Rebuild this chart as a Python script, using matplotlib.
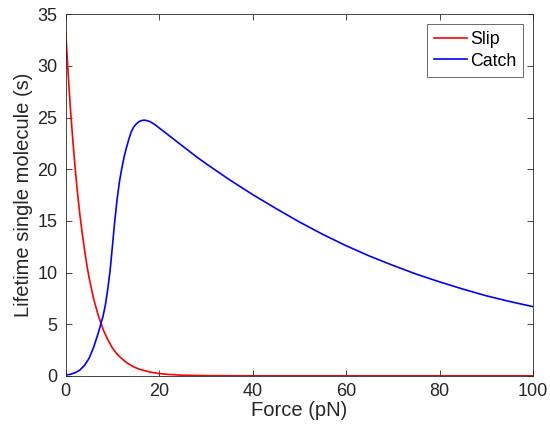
import matplotlib
matplotlib.use("Agg")
import matplotlib.pyplot as plt

# values
force_slip = [0, 0.5, 1, 1.5, 2, 2.5, 3, 3.5, 4, 4.5, 5, 6, 7, 8, 9, 10, 11, 12, 13, 14,
              15, 16, 18, 20, 22, 25, 30, 35, 40, 50, 60, 70, 80, 90, 100]
life_slip = [33.3, 29.4, 25.9, 22.9, 20.2, 17.8, 15.7, 13.9, 12.3, 10.8, 9.5, 7.4, 5.8,
             4.5, 3.5, 2.7, 2.1, 1.66, 1.29, 1.0, 0.78, 0.61, 0.37, 0.22, 0.14, 0.06,
             0.02, 0.01, 0.0, 0.0, 0.0, 0.0, 0.0, 0.0, 0.0]

force_catch = [0, 1, 2, 3, 4, 5, 6, 7, 7.5, 8, 8.5, 9, 9.5, 10, 10.5, 11, 11.5, 12, 12.5,
               13, 13.5, 14, 14.5, 15, 15.5, 16, 16.5, 17, 18, 19, 20, 22, 24, 26, 28,
               30, 35, 40, 45, 50, 55, 60, 65, 70, 75, 80, 85, 90, 95, 100]
life_catch = [0.08, 0.15, 0.3, 0.55, 1.0, 1.7, 2.8, 4.2, 5.0, 5.8, 6.9, 8.4, 10.2, 12.6,
              15.0, 17.1, 18.8, 20.1, 21.2, 22.1, 22.9, 23.6, 24.05, 24.35, 24.55, 24.68,
              24.74, 24.75, 24.62, 24.35, 24.0, 23.3, 22.6, 21.9, 21.2, 20.55, 19.0,
              17.55, 16.2, 14.9, 13.7, 12.6, 11.6, 10.7, 9.85, 9.1, 8.4, 7.75, 7.2, 6.7]

x_ticks = [0, 20, 40, 60, 80, 100]
y_ticks = [0, 5, 10, 15, 20, 25, 30, 35]

plt.rcParams["font.family"] = ["Liberation Sans", "DejaVu Sans"]
grey = "#262626"

fig = plt.figure(figsize=(5.5, 4.34), dpi=100)
ax = fig.add_axes([0.1195, 0.134, 0.8495, 0.833])

ax.plot(force_slip, life_slip, color="red", lw=1.2, label="Slip")
ax.plot(force_catch, life_catch, color="blue", lw=1.2, label="Catch")

ax.set_xlim(0, 100)
ax.set_ylim(0, 35)
ax.set_xticks(x_ticks)
ax.set_yticks(y_ticks)
ax.tick_params(direction="in", length=4, width=0.6, colors=grey, labelsize=13,
               top=True, right=True)
ax.tick_params(axis="x", pad=5)
ax.tick_params(axis="y", pad=6)
for s in ax.spines.values():
    s.set_color(grey)
    s.set_linewidth(0.6)

ax.set_xlabel("Force (pN)", fontsize=14.5, color=grey, labelpad=1)
ax.set_ylabel("Lifetime single molecule (s)", fontsize=14.5, color=grey, labelpad=3)

leg = ax.legend(loc="upper right", fontsize=12.8, frameon=True, fancybox=False,
                handlelength=1.85, borderpad=0.4, labelspacing=0.25,
                handletextpad=0.15, borderaxespad=0.55)
leg.get_frame().set_edgecolor(grey)
leg.get_frame().set_linewidth(0.6)

fig.savefig("out.png", dpi=100, facecolor="white")
